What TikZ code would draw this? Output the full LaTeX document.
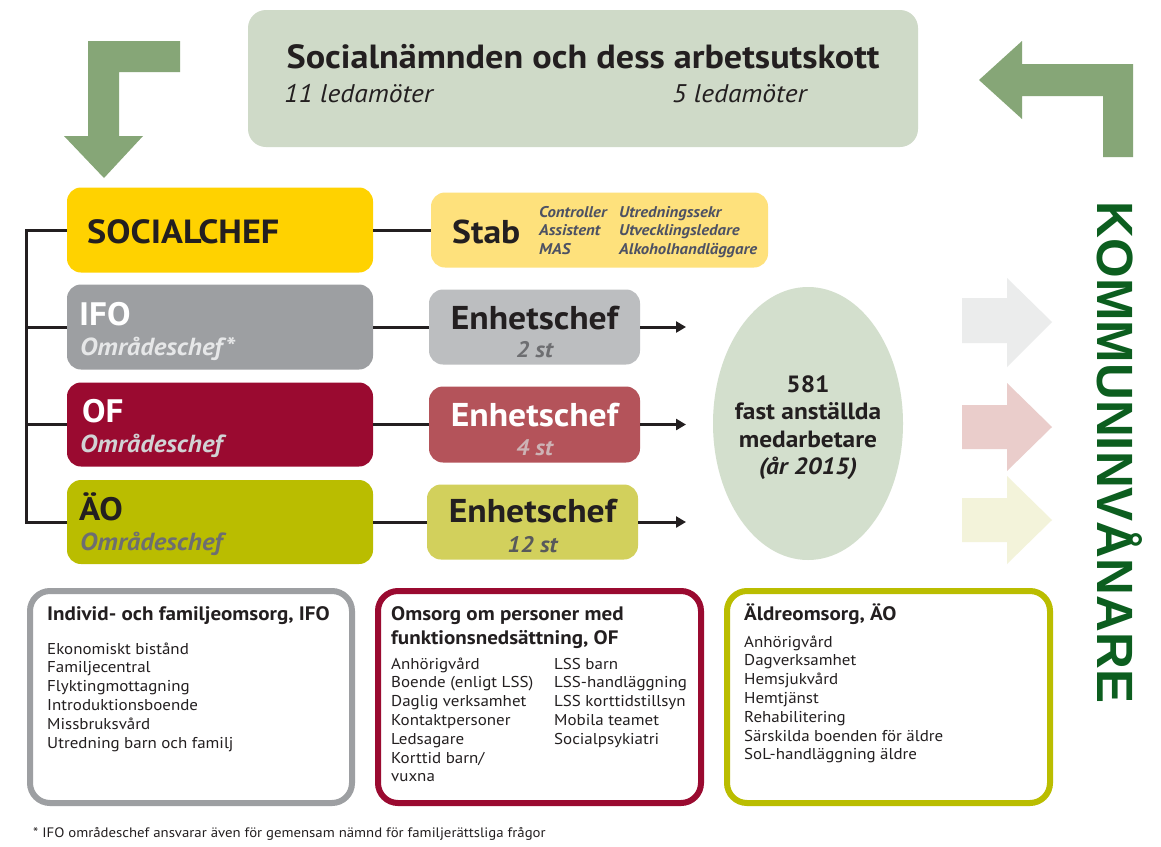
\documentclass[tikz,border=0pt]{standalone}
\usepackage{fontspec}
\setmainfont{PT Sans}[FakeStretch=1.08]
\newfontfamily\kfont{Liberation Sans}
\usetikzlibrary{arrows.meta,shapes.geometric}
\newcommand\setfs[1]{\fontsize{#1}{#1}\selectfont}
\definecolor{arrgreen}{HTML}{86A677}
\definecolor{topgreen}{HTML}{CFDAC8}
\definecolor{socyellow}{HTML}{FFD200}
\definecolor{stabyellow}{HTML}{FEE17C}
\definecolor{ifogrey}{HTML}{9D9FA2}
\definecolor{egrey}{HTML}{BCBEC0}
\definecolor{ofred}{HTML}{9A0A30}
\definecolor{ered}{HTML}{B4535A}
\definecolor{aeoolive}{HTML}{BABD00}
\definecolor{eolive}{HTML}{D2D05C}
\definecolor{ellgreen}{HTML}{D3DFCD}
\definecolor{kgreen}{HTML}{0C5E1F}
\definecolor{stabtext}{HTML}{4D5163}
\definecolor{linecol}{HTML}{231F20}
\definecolor{midgrey}{HTML}{6D6E71}
\definecolor{lightgrey}{HTML}{E6E7E8}
\definecolor{ofgrey}{HTML}{D1D3D4}
\definecolor{pinkgrey}{HTML}{CDB3B5}
\definecolor{darkgrey}{HTML}{58595B}
\definecolor{blockgrey}{HTML}{EBECEC}
\definecolor{blockpink}{HTML}{EACDCB}
\definecolor{blockyellow}{HTML}{F3F3DA}
\definecolor{txt}{HTML}{231F20}
\begin{document}
\begin{tikzpicture}[x=1pt,y=-1pt,
  conn/.style={line width=3pt, draw=linecol},
  arr/.style={conn, -{Triangle[length=10pt,width=11pt]}},
  box/.style={rectangle, rounded corners=14pt, inner sep=0pt, draw=none},
  lbl/.style={inner sep=0pt, anchor=base west},
  ctr/.style={inner sep=0pt, anchor=base},
  frame/.style={rectangle, draw, line width=6pt, fill=white, rounded corners=20pt, inner sep=0pt, minimum height=212pt},
  item/.style={inner sep=0pt, anchor=base west, font=\setfs{15.7}, text=txt},
  ftitle/.style={inner sep=0pt, anchor=base west, font=\bfseries\setfs{19.5}, text=txt}]
\useasboundingbox (0,0) rectangle (1161,846);
\fill[white] (0,0) rectangle (1161,846);

% L-shaped arrows
\fill[arrgreen] (180,41) -- (88,41) -- (88,136) -- (64,136) -- (104,178) -- (143,136) -- (119,136) -- (119,72) -- (180,72) -- cycle;
\fill[arrgreen] (1133,157) -- (1133,64) -- (1022,64) -- (1022,41) -- (979,80) -- (1022,119) -- (1022,96) -- (1103,96) -- (1103,157) -- cycle;

% board
\node[box, fill=topgreen, rounded corners=18pt, minimum width=670pt, minimum height=137pt] (board) at (583,78.5) {};
\node[ctr, font=\bfseries\setfs{33.5}, text=txt] (boardt) at (583,68) {Socialnämnden och dess arbetsutskott};
\node[lbl, font=\itshape\setfs{25.5}, text=txt] (led11) at (284,102) {11 ledamöter};
\node[lbl, font=\itshape\setfs{25.5}, text=txt] (led5) at (672,102) {5 ledamöter};

% kommuninvånare
\node[rotate=-90, anchor=base, inner sep=0pt, font=\kfont\bfseries\setfs{51}, text=kgreen] (kommun) at (1097,452.5) {KOMMUNINVÅNARE};

% left column boxes
\node[box, fill=socyellow, minimum width=306pt, minimum height=85pt] (soc) at (220,230) {};
\node[lbl, font=\bfseries\setfs{33.5}, text=txt] (soct) at (87,243) {SOCIALCHEF};
\node[box, fill=ifogrey, minimum width=306pt, minimum height=85pt] (ifo) at (220,327) {};
\node[lbl, font=\bfseries\setfs{32.5}, text=white] (ifot) at (79,325) {IFO};
\node[lbl, font=\bfseries\itshape\setfs{24.7}, text=lightgrey] (ifos) at (80,355) {Områdeschef*};
\node[box, fill=ofred, minimum width=306pt, minimum height=84pt] (of) at (220,424.5) {};
\node[lbl, font=\bfseries\setfs{32.5}, text=white] (oft) at (82,422) {OF};
\node[lbl, font=\bfseries\itshape\setfs{24.7}, text=ofgrey] (ofs) at (80,452) {Områdeschef};
\node[box, fill=aeoolive, minimum width=306pt, minimum height=84pt] (aeo) at (220,522) {};
\node[lbl, font=\bfseries\setfs{32.5}, text=txt] (aeot) at (79,520) {ÄO};
\node[lbl, font=\bfseries\itshape\setfs{24.7}, text=midgrey] (aeos) at (80,550) {Områdeschef};

% stab
\node[box, fill=stabyellow, minimum width=337pt, minimum height=75pt] (stab) at (599.5,230) {};
\node[lbl, font=\bfseries\setfs{33}, text=txt] (stabt) at (452,243) {Stab};
\node[lbl, font=\bfseries\itshape\setfs{15.5}, text=stabtext] (s1) at (539,217) {Controller};
\node[lbl, font=\bfseries\itshape\setfs{15.5}, text=stabtext] (s2) at (539,235.5) {Assistent};
\node[lbl, font=\bfseries\itshape\setfs{15.5}, text=stabtext] (s3) at (539,254) {MAS};
\node[lbl, font=\bfseries\itshape\setfs{15.5}, text=stabtext] (s4) at (619,217) {Utredningssekr};
\node[lbl, font=\bfseries\itshape\setfs{15.5}, text=stabtext] (s5) at (619,235.5) {Utvecklingsledare};
\node[lbl, font=\bfseries\itshape\setfs{15.5}, text=stabtext] (s6) at (619,254) {Alkoholhandläggare};

% enhetschef
\node[box, fill=egrey, minimum width=211pt, minimum height=75pt] (e1) at (534.5,327) {};
\node[ctr, font=\bfseries\setfs{33}, text=txt] (e1t) at (534.5,329) {Enhetschef};
\node[ctr, font=\bfseries\itshape\setfs{22.5}, text=midgrey] (e1s) at (534.5,357) {2 st};
\node[box, fill=ered, minimum width=211pt, minimum height=76pt] (e2) at (534.5,424.5) {};
\node[ctr, font=\bfseries\setfs{33}, text=white] (e2t) at (534.5,426) {Enhetschef};
\node[ctr, font=\bfseries\itshape\setfs{22.5}, text=pinkgrey] (e2s) at (534.5,455) {4 st};
\node[box, fill=eolive, minimum width=211pt, minimum height=75pt] (e3) at (532.5,522) {};
\node[ctr, font=\bfseries\setfs{33}, text=txt] (e3t) at (532.5,522) {Enhetschef};
\node[ctr, font=\bfseries\itshape\setfs{22.5}, text=darkgrey] (e3s) at (532.5,552) {12 st};

% connectors
\coordinate (btop) at (26,230);
\coordinate (bbot) at (26,522);
\coordinate (tipx) at (686,0);
\draw[conn] (soc.west) -- (btop) -- (bbot) -- (aeo.west);
\draw[conn] (ifo.west) -- (ifo.west -| btop);
\draw[conn] (of.west) -- (of.west -| btop);
\draw[conn] (soc.east) -- (stab.west);
\draw[conn] (ifo.east) -- (e1.west);
\draw[conn] (of.east) -- (e2.west);
\draw[conn] (aeo.east) -- (e3.west);
\draw[arr] (e1.east) -- (e1.east -| tipx);
\draw[arr] (e2.east) -- (e2.east -| tipx);
\draw[arr] (e3.east) -- (e3.east -| tipx);

% ellipse
\node[ellipse, fill=ellgreen, minimum width=190pt, minimum height=273pt, inner sep=0pt] (staff) at (808,423.5) {};
\node[ctr, font=\bfseries\setfs{23.5}, text=txt] (st1) at (808,392) {581};
\node[ctr, font=\bfseries\setfs{23.5}, text=txt] (st2) at (808,419) {fast anställda};
\node[ctr, font=\bfseries\setfs{23.5}, text=txt] (st3) at (808,447) {medarbetare};
\node[ctr, font=\bfseries\itshape\setfs{23.5}, text=txt] (st4) at (808,474) {(år 2015)};

% block arrows
\fill[blockgrey] (962,298) -- (1007,298) -- (1007,278) -- (1052,322) -- (1007,367) -- (1007,343) -- (962,343) -- cycle;
\fill[blockpink] (962,405) -- (1007,405) -- (1007,383) -- (1052,427) -- (1007,471) -- (1007,449) -- (962,449) -- cycle;
\fill[blockyellow] (962,498) -- (1007,498) -- (1007,476) -- (1052,520) -- (1007,564) -- (1007,542) -- (962,542) -- cycle;

% bottom frames
\node[frame, draw=ifogrey, minimum width=322pt] (fifo) at (191,697) {};
\node[ftitle] (fifot) at (47,620) {Individ- och familjeomsorg, IFO};
\foreach \t [count=\i from 0] in {Ekonomiskt bistånd,Familjecentral,Flyktingmottagning,Introduktionsboende,Missbruksvård,Utredning barn och familj}
  \node[item] (fifo\i) at (47,654+18.8*\i) {\t};

\node[frame, draw=ofred, minimum width=323pt] (fof) at (539.5,697) {};
\node[ftitle] (foft1) at (391,620) {Omsorg om personer med};
\node[ftitle] (foft2) at (391,644) {funktionsnedsättning, OF};
\foreach \t [count=\i from 0] in {Anhörigvård,Boende (enligt LSS),Daglig verksamhet,Kontaktpersoner,Ledsagare,Korttid barn/,vuxna}
  \node[item] (fofa\i) at (391,669+18.8*\i) {\t};
\foreach \t [count=\i from 0] in {LSS barn,LSS-handläggning,LSS korttidstillsyn,Mobila teamet,Socialpsykiatri}
  \node[item] (fofb\i) at (554,669+18.8*\i) {\t};

\node[frame, draw=aeoolive, minimum width=323pt] (faeo) at (888.5,697) {};
\node[ftitle] (faeot) at (744,620) {Äldreomsorg, ÄO};
\foreach \t [count=\i from 0] in {Anhörigvård,Dagverksamhet,Hemsjukvård,Hemtjänst,Rehabilitering,Särskilda boenden för äldre,SoL-handläggning äldre}
  \node[item] (faeo\i) at (744,647+18.8*\i) {\t};

\node[lbl, font=\setfs{13.7}, text=txt] (foot) at (33,837) {* IFO områdeschef ansvarar även för gemensam nämnd för familjerättsliga frågor};
\end{tikzpicture}
\end{document}
